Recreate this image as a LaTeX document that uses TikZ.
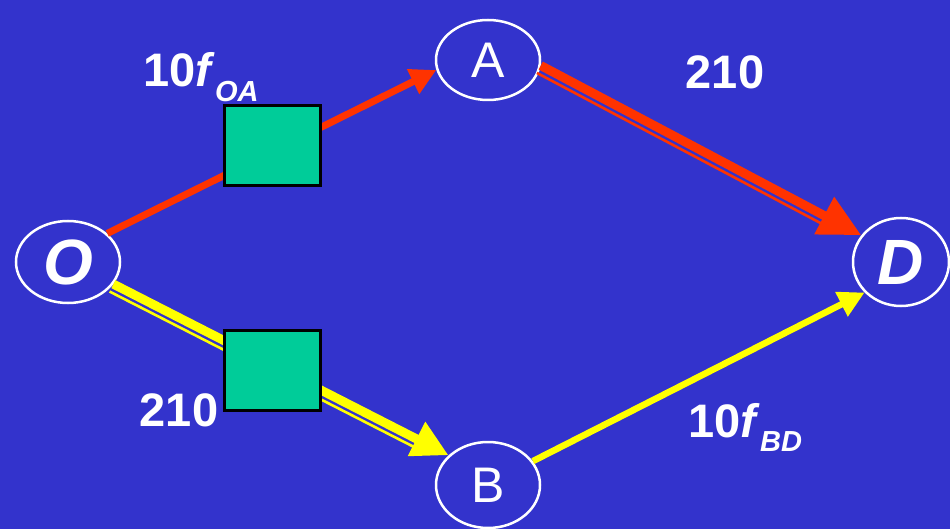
\documentclass[tikz,border=0pt]{standalone}
\usepackage{fontspec}
\setmainfont{Liberation Sans}
\usetikzlibrary{arrows.meta,shapes.geometric}
\definecolor{bgblue}{HTML}{3333CC}
\definecolor{redc}{HTML}{FF3300}
\definecolor{yelc}{HTML}{FFFF00}
\definecolor{boxgreen}{HTML}{00CC99}
\newcommand\mysubfont{\fontsize{29}{29}\selectfont\bfseries\itshape}
\begin{document}
\begin{tikzpicture}[x=1pt,y=-1pt,
  city/.style={ellipse,draw=white,line width=2.5pt,inner sep=0pt,text=white},
  cityreg/.style={city,font=\fontsize{50}{50}\selectfont},
  citybig/.style={city,font=\fontsize{64}{64}\selectfont\bfseries\itshape},
  box/.style={draw=black,line width=3pt,fill=boxgreen,minimum width=96pt,minimum height=80pt,inner sep=0pt},
  lbl/.style={text=white,font=\fontsize{47}{47}\selectfont\bfseries,inner sep=0pt}]
\fill[bgblue] (0,0) rectangle (950,529);
\useasboundingbox (0,0) rectangle (950,529);
% nodes
\node[citybig,minimum width=104pt,minimum height=82pt] (O) at (68,262) {O};
\node[cityreg,minimum width=104pt,minimum height=80pt] (A) at (488,60) {A};
\node[cityreg,minimum width=104pt,minimum height=86pt] (B) at (488,485) {B};
\node[citybig,minimum width=96pt,minimum height=88pt] (D) at (901,262) {D};
% edges
\draw[redc,line width=7pt,-{Triangle[length=26pt,width=26pt]}] (O.36) -- (A.191);
\draw[redc,line width=9pt,-{Triangle[length=42pt,width=40pt]}] (A.-6) -- (D.146);
\draw[redc,line width=2.6pt,shorten >=40pt,transform canvas={shift={(-3.8pt,-7.4pt)}}] (A.-6) -- (D.146);
\draw[yelc,line width=9pt,-{Triangle[length=36pt,width=36pt]}] (O.-26) -- (B.143);
\draw[yelc,line width=2.6pt,shorten >=34pt,transform canvas={shift={(-3.8pt,-7.4pt)}}] (O.-26) -- (B.143);
\draw[yelc,line width=6.5pt,-{Triangle[length=26pt,width=26pt]}] (B.28) -- (D.220);
% boxes
\node[box] (b1) at (272,146) {};
\node[box] (b2) at (272,370) {};
% labels
\node[lbl,anchor=base west] (l1) at (143,87) {10\textit{f}\raisebox{-0.3em}{\mysubfont OA}};
\node[lbl] (l2) at (725,72) {210};
\node[lbl] (l3) at (179,410) {210};
\node[lbl,anchor=base west] (l4) at (688,437) {10\textit{f}\raisebox{-0.3em}{\mysubfont BD}};
\end{tikzpicture}
\end{document}
